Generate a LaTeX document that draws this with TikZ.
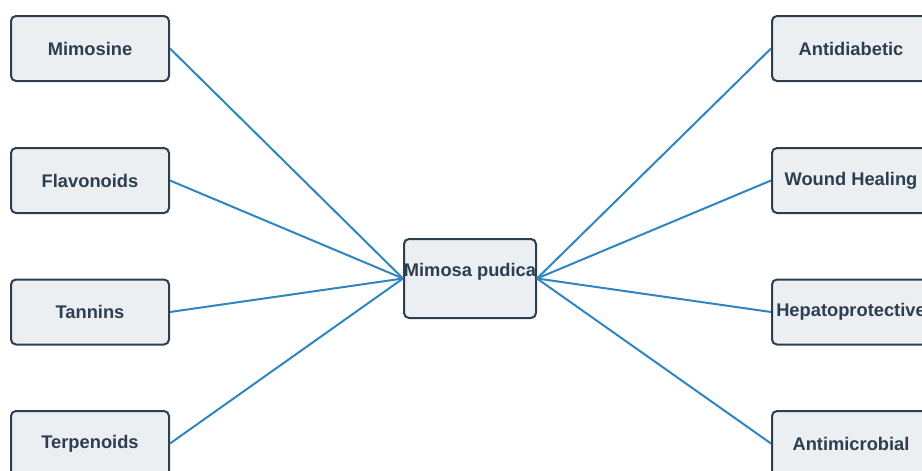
\documentclass[tikz,border=0pt]{standalone}
\usepackage{fontspec}
\setmainfont{Liberation Sans}
\definecolor{boxfill}{HTML}{ECEFF1}
\definecolor{boxline}{HTML}{2C3E50}
\definecolor{linkc}{HTML}{2E86C1}
\begin{document}
\begin{tikzpicture}[x=1pt,y=-1pt,
  box/.style={draw=boxline,fill=boxfill,line width=2pt,rounded corners=5pt,minimum width=158pt,minimum height=65pt,inner sep=0pt},
  cbox/.style={draw=boxline,fill=boxfill,line width=2pt,rounded corners=5pt,minimum width=132pt,minimum height=79pt,inner sep=0pt},
  lbl/.style={text=boxline,font=\fontsize{18.3}{22}\selectfont\bfseries,inner sep=0pt},
  link/.style={draw=linkc,line width=2pt}]
\useasboundingbox (0,0) rectangle (922,471);
\clip (0,0) rectangle (922,471);
% centre
\node[cbox] (c) at (470,278.5) {};
\node[lbl] (ct) at (470,272) {Mimosa pudica};
% left
\node[box] (l1) at (90,48.5) {};
\node[box] (l2) at (90,180.5) {};
\node[box] (l3) at (90,312) {};
\node[box] (l4) at (90,443.5) {};
\node[lbl] (l1t) at (l1) {Mimosine};
\node[lbl] (l2t) at (l2) {Flavonoids};
\node[lbl] (l3t) at (l3) {Tannins};
\node[lbl] (l4t) at (l4) {Terpenoids};
% right
\node[box] (r1) at (851,48.5) {};
\node[box] (r2) at (851,180.5) {};
\node[box] (r3) at (851,312) {};
\node[box] (r4) at (851,443.5) {};
\node[lbl] (r1t) at (r1) {Antidiabetic};
\node[lbl] (r2t) at (r2) {Wound Healing};
\node[lbl] (r3t) at (r3) {Hepatoprotective};
\node[lbl] (r4t) at (r4) {Antimicrobial};
% links
\foreach \n in {l1,l2,l3,l4} \draw[link] (\n.east) -- (c.west);
\foreach \n in {r1,r2,r3,r4} \draw[link] (c.east) -- (\n.west);
\end{tikzpicture}
\end{document}
